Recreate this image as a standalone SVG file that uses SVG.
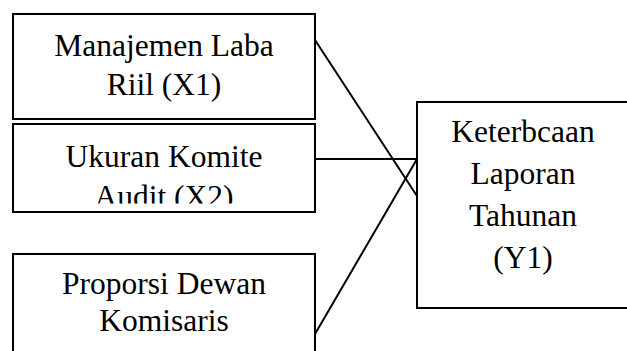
<svg xmlns="http://www.w3.org/2000/svg" width="627" height="351" viewBox="0 0 627 351">
<style>
.box{fill:#fff;stroke:#000;stroke-width:2}
.t{font-family:'Liberation Serif','Times New Roman',Times,'DejaVu Serif',serif;font-size:31.5px;fill:#000;text-anchor:middle}
.c{stroke:#000;stroke-width:2;fill:none}
</style>
<defs>
<clipPath id="clipX2"><rect x="0" y="120" width="320" height="83.5"/></clipPath>
</defs>
<rect width="627" height="351" fill="#fff"/>
<g id="connectors">
<line class="c" x1="315" y1="40" x2="417" y2="196"/>
<line class="c" x1="315" y1="159" x2="417" y2="159"/>
<line class="c" x1="417" y1="159" x2="315" y2="334"/>
</g>
<g id="x1">
<rect class="box" x="13" y="14" width="302" height="105"/>
<text class="t" x="164" y="56" font-family="Liberation Serif">Manajemen Laba</text>
<text class="t" x="164" y="95" font-family="Liberation Serif">Riil (X1)</text>
</g>
<g id="x2">
<rect class="box" x="13" y="124" width="302" height="88"/>
<g clip-path="url(#clipX2)">
<text class="t" x="164" y="167">Ukuran Komite</text>
<text class="t" x="164" y="207">Audit (X2)</text>
</g>
</g>
<g id="x3">
<rect class="box" x="13" y="254" width="302" height="110"/>
<text class="t" x="164" y="294">Proporsi Dewan</text>
<text class="t" x="164" y="331">Komisaris</text>
</g>
<g id="y1">
<rect class="box" x="417" y="102" width="220" height="206"/>
<text class="t" x="523" y="142">Keterbcaan</text>
<text class="t" x="523" y="184">Laporan</text>
<text class="t" x="523" y="226">Tahunan</text>
<text class="t" x="523" y="268">(Y1)</text>
</g>
</svg>
